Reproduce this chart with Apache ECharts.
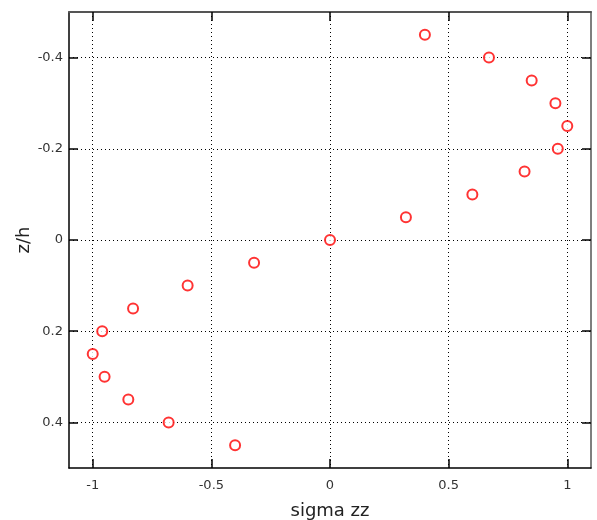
<!DOCTYPE html>
<html>
<head>
<meta charset="utf-8">
<script src="https://cdn.jsdelivr.net/npm/echarts@6/dist/echarts.min.js"></script>
<style>
html,body{margin:0;padding:0;background:#fff;}
#container{width:597px;height:520px;}
</style>
</head>
<body>
<div id="container"></div>
<script>
// sigma zz (x) against z/h (y)
var sigmaZZ = [0.40, 0.67, 0.85, 0.95, 1.00, 0.96, 0.82, 0.60, 0.32, 0.00,
    -0.32, -0.60, -0.83, -0.96, -1.00, -0.95, -0.85, -0.68, -0.40];
var zh = [-0.45, -0.40, -0.35, -0.30, -0.25, -0.20, -0.15, -0.10, -0.05, 0.00,
    0.05, 0.10, 0.15, 0.20, 0.25, 0.30, 0.35, 0.40, 0.45];
var xTicks = [-1, -0.5, 0, 0.5, 1];
var yTicks = [-0.4, -0.2, 0, 0.2, 0.4];

var points = [];
for (var i = 0; i < sigmaZZ.length; i++) {
    points.push([sigmaZZ[i], zh[i]]);
}

var font = 'DejaVu Sans';

var dom = document.getElementById('container');
var myChart = echarts.init(dom, null, {renderer: 'canvas'});

var option = {
    animation: false,
    backgroundColor: '#fff',
    grid: {left: 69, top: 12, right: 6, bottom: 52, outerBoundsMode: 'none', containLabel: false},
    xAxis: [
        {
            type: 'value',
            min: -1.1,
            max: 1.1,
            position: 'bottom',
            name: 'sigma zz',
            nameLocation: 'middle',
            nameGap: 34,
            nameTextStyle: {fontFamily: font, fontSize: 18, color: '#222'},
            axisLine: {show: true, onZero: false, lineStyle: {color: '#000', width: 1.5}},
            axisTick: {show: true, inside: true, length: 9, customValues: xTicks, lineStyle: {color: '#000', width: 1.5}},
            axisLabel: {customValues: xTicks, fontFamily: font, fontSize: 13, color: '#333', margin: 11},
            splitLine: {show: true, lineStyle: {color: '#000', type: [1, 3], width: 1}}
        },
        {
            type: 'value',
            min: -1.1,
            max: 1.1,
            position: 'top',
            axisLine: {show: true, onZero: false, lineStyle: {color: '#555', width: 2}},
            axisTick: {show: true, inside: true, length: 9, customValues: xTicks, lineStyle: {color: '#000', width: 1.5}},
            axisLabel: {show: false},
            splitLine: {show: false}
        }
    ],
    yAxis: [
        {
            type: 'value',
            min: -0.5,
            max: 0.5,
            inverse: true,
            position: 'left',
            name: 'z/h',
            nameLocation: 'middle',
            nameGap: 36,
            nameMoveOverlap: false,
            nameTextStyle: {fontFamily: font, fontSize: 18, color: '#222'},
            axisLine: {show: true, onZero: false, lineStyle: {color: '#000', width: 1.5}},
            axisTick: {show: true, inside: true, length: 9, customValues: yTicks, lineStyle: {color: '#000', width: 1.5}},
            axisLabel: {customValues: yTicks, fontFamily: font, fontSize: 13, color: '#333', margin: 6},
            splitLine: {show: true, lineStyle: {color: '#000', type: [1, 3], width: 1}}
        },
        {
            type: 'value',
            min: -0.5,
            max: 0.5,
            inverse: true,
            position: 'right',
            axisLine: {show: true, onZero: false, lineStyle: {color: '#555', width: 1.5}},
            axisTick: {show: true, inside: true, length: 9, customValues: yTicks, lineStyle: {color: '#000', width: 1.5}},
            axisLabel: {show: false},
            splitLine: {show: false}
        }
    ],
    series: [
        {
            type: 'scatter',
            xAxisIndex: 0,
            yAxisIndex: 0,
            symbol: 'emptyCircle',
            symbolSize: 10,
            itemStyle: {color: '#ff0000', borderWidth: 2.2},
            data: points
        }
    ]
};

myChart.setOption(option);
window.addEventListener('resize', myChart.resize);
</script>
</body>
</html>
